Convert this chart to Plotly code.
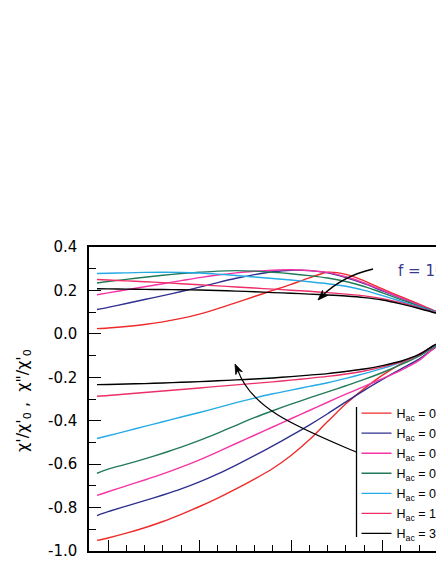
import math
import plotly.graph_objects as go

# Temperature-like x values (arbitrary units)
T = [9.4, 10, 11, 12, 13, 14, 15, 16, 17, 18, 19, 20, 21, 22, 23, 24, 25, 26, 27, 27.9, 28.4]

labels = ["H<sub>ac</sub> = 0.1 Oe", "H<sub>ac</sub> = 0.2 Oe", "H<sub>ac</sub> = 0.3 Oe",
          "H<sub>ac</sub> = 0.5 Oe", "H<sub>ac</sub> = 0.7 Oe", "H<sub>ac</sub> = 1.0 Oe",
          "H<sub>ac</sub> = 3.0 Oe"]
colors = ["#ee2b2b", "#303090", "#f534a6", "#237a58", "#25aae6", "#ec2f68", "#000000"]

# upper branch (chi'')
chi2_red     = [.024, .027, .034, .043, .055, .071, .091, .116, .144, .172, .200, .228, .258, .284, .274, .244, .207, .171, .137, .104, .085]
chi2_blue    = [.112, .122, .140, .158, .176, .195, .215, .236, .256, .273, .286, .293, .291, .281, .259, .231, .198, .165, .132, .103, .085]
chi2_magenta = [.180, .189, .203, .217, .231, .245, .259, .271, .281, .288, .293, .295, .292, .283, .263, .235, .201, .166, .133, .103, .085]
chi2_green   = [.234, .241, .251, .261, .270, .278, .284, .289, .291, .289, .284, .277, .268, .257, .241, .218, .189, .158, .128, .101, .084]
chi2_cyan    = [.278, .279, .281, .283, .284, .283, .280, .275, .269, .262, .255, .248, .240, .231, .219, .200, .176, .150, .124, .100, .084]
chi2_crimson = [.250, .248, .244, .240, .236, .231, .226, .221, .216, .211, .206, .201, .196, .190, .183, .175, .162, .144, .120, .098, .083]
chi2_black   = [.208, .207, .206, .205, .204, .203, .202, .200, .197, .194, .190, .187, .183, .179, .174, .167, .156, .138, .117, .096, .082]

# lower branch (chi')
chi1_red     = [-.951, -.940, -.918, -.893, -.864, -.831, -.795, -.756, -.714, -.669, -.620, -.560, -.488, -.404, -.322, -.252, -.190, -.138, -.094, -.052, -.035]
chi1_blue    = [-.837, -.819, -.793, -.768, -.742, -.714, -.682, -.645, -.604, -.561, -.516, -.469, -.420, -.368, -.313, -.260, -.210, -.162, -.116, -.062, -.040]
chi1_magenta = [-.744, -.727, -.700, -.673, -.645, -.614, -.580, -.543, -.505, -.467, -.429, -.391, -.353, -.315, -.278, -.242, -.206, -.168, -.122, -.060, -.038]
chi1_green   = [-.642, -.623, -.600, -.576, -.550, -.522, -.491, -.457, -.421, -.386, -.354, -.324, -.295, -.267, -.239, -.210, -.178, -.142, -.102, -.056, -.036]
chi1_cyan    = [-.482, -.469, -.448, -.426, -.405, -.383, -.362, -.340, -.317, -.296, -.276, -.259, -.242, -.225, -.205, -.183, -.159, -.131, -.096, -.052, -.035]
chi1_crimson = [-.287, -.284, -.277, -.270, -.263, -.256, -.249, -.242, -.235, -.228, -.221, -.213, -.205, -.196, -.185, -.171, -.152, -.129, -.097, -.050, -.034]
chi1_black   = [-.234, -.233, -.231, -.229, -.226, -.223, -.220, -.216, -.212, -.208, -.203, -.197, -.190, -.183, -.173, -.162, -.146, -.126, -.095, -.049, -.034]

upper = [chi2_red, chi2_blue, chi2_magenta, chi2_green, chi2_cyan, chi2_crimson, chi2_black]
lower = [chi1_red, chi1_blue, chi1_magenta, chi1_green, chi1_cyan, chi1_crimson, chi1_black]

y_tickvals = [0.4, 0.2, 0.0, -0.2, -0.4, -0.6, -0.8, -1.0]
y_ticktext = ["0.4", "0.2", "0.0", "-0.2", "-0.4", "-0.6", "-0.8", "-1.0"]

# Full-window figure; the page's default body margin is removed by a post script.
W, H = 436, 564
PL, PR, PT, PB = 89, 436, 247, 551          # plot frame in window pixels
ML, MT = PL, PT
MR, MB = W - PR, H - PB
PW, PH = PR - PL, PB - PT


def px(X):
    return (X - PL) / PW


def py(Y):
    return (PB - Y) / PH


FONT = "DejaVu Sans, Arial, sans-serif"
LFONT = "Liberation Sans, Arial, sans-serif"

fig = go.Figure()
for lab, col, up, lo in zip(labels, colors, upper, lower):
    fig.add_trace(go.Scatter(x=T, y=up, mode="lines", name=lab, legendgroup=lab,
                             line=dict(color=col, width=1.4, shape="spline", smoothing=0.8)))
    fig.add_trace(go.Scatter(x=T, y=lo, mode="lines", name=lab, legendgroup=lab,
                             showlegend=False,
                             line=dict(color=col, width=1.4, shape="spline", smoothing=0.8)))

fig.update_layout(
    width=W, height=H,
    margin=dict(l=ML, r=MR, t=MT, b=MB, pad=0, autoexpand=False),
    plot_bgcolor="white", paper_bgcolor="white",
    font=dict(family=FONT, size=14, color="black"),
    showlegend=True,
    legend=dict(x=px(356.5), y=py(398.5), xanchor="left", yanchor="top",
                bgcolor="rgba(0,0,0,0)", borderwidth=0,
                font=dict(family=LFONT, size=12.5, color="black"),
                tracegroupgap=0.8),
    xaxis=dict(range=[10 + (PL - 108) / 18.3, 10 + (PR - 108) / 18.3],
               showline=True, linecolor="black", linewidth=1.5, mirror=True,
               showgrid=False, zeroline=False,
               ticks="inside", tick0=10, dtick=5, ticklen=11, tickwidth=1.3, tickcolor="black",
               showticklabels=False,
               minor=dict(ticks="inside", dtick=1, tick0=10, ticklen=6, tickwidth=1.1, tickcolor="black")),
    yaxis=dict(range=[-1.0, 0.4],
               showline=True, linecolor="black", linewidth=1.5, mirror=False,
               showgrid=False, zeroline=False,
               ticks="inside", tickvals=y_tickvals, ticktext=y_ticktext,
               ticklen=12, tickwidth=1.3, tickcolor="black",
               ticklabelstandoff=7,
               tickfont=dict(family=FONT, size=15),
               minor=dict(ticks="inside", dtick=0.1, tick0=0, ticklen=7, tickwidth=1.1, tickcolor="black")),
)

# y-axis title
fig.add_annotation(text="χ'/χ'<sub>0</sub> ,  χ\"/χ'<sub>0</sub>", xref="paper", yref="paper",
                   x=px(23), y=py(401), xanchor="center", yanchor="middle",
                   textangle=-90, showarrow=False,
                   font=dict(family=FONT, size=16, color="black"))

# frequency label (cut by the frame)
fig.add_annotation(text="f = 10 Hz", xref="paper", yref="paper", x=px(396), y=py(271),
                   xanchor="left", yanchor="middle", showarrow=False,
                   font=dict(family=FONT, size=15, color="#3a3a8c"))


def head(tip, frm, length=10, half=3.6):
    dx, dy = tip[0] - frm[0], tip[1] - frm[1]
    n = math.hypot(dx, dy)
    ux, uy = dx / n, dy / n
    bx, by = tip[0] - ux * length, tip[1] - uy * length
    nx, ny = -uy * half, ux * half
    notch = (tip[0] - ux * length * 0.7, tip[1] - uy * length * 0.7)
    pts = [tip, (bx + nx, by + ny), notch, (bx - nx, by - ny)]
    d = "M" + " L".join(f"{px(a)},{py(b)}" for a, b in pts) + " Z"
    return d, notch


# upper curved arrow
tip1, ctl1 = (318, 300), (343, 276)
d1, end1 = head(tip1, (324, 294))
fig.add_shape(type="path", xref="paper", yref="paper",
              path=f"M{px(373)},{py(269)} Q{px(ctl1[0])},{py(ctl1[1])} {px(end1[0])},{py(end1[1])}",
              line=dict(color="black", width=1.3))
fig.add_shape(type="path", xref="paper", yref="paper", path=d1,
              fillcolor="black", line=dict(color="black", width=0.8))

# lower curved arrow
tip2 = (235, 364)
d2, end2 = head(tip2, (239, 373))
fig.add_shape(type="path", xref="paper", yref="paper",
              path=f"M{px(356)},{py(452)} C{px(300)},{py(428)} {px(252)},{py(410)} {px(end2[0])},{py(end2[1])}",
              line=dict(color="black", width=1.3))
fig.add_shape(type="path", xref="paper", yref="paper", path=d2,
              fillcolor="black", line=dict(color="black", width=0.8))

# legend bracket line
fig.add_shape(type="line", xref="paper", yref="paper",
              x0=px(356.5), x1=px(356.5), y0=py(407), y1=py(537),
              line=dict(color="black", width=1.3))

fig.write_html(
    "out.html",
    config={"displayModeBar": False},
    post_script="document.body.style.margin='0px';document.documentElement.style.overflow='hidden';",
)
